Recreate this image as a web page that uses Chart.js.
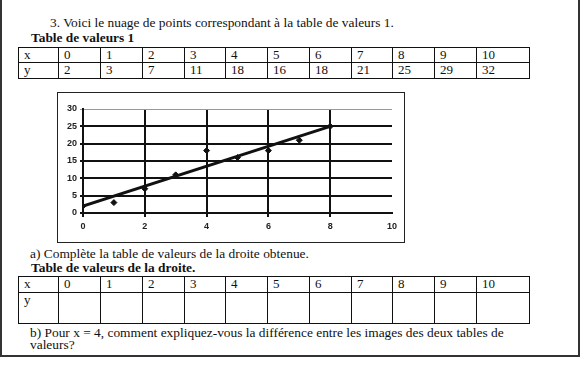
<!DOCTYPE html>
<html>
<head>
<meta charset="utf-8">
<script src="https://cdn.jsdelivr.net/npm/chart.js@4/dist/chart.umd.min.js"></script>
<style>
  body { margin: 0; background: #fff; width: 582px; height: 365px; overflow: hidden; position: relative;
         font-family: "Liberation Serif", "DejaVu Serif", serif; color: #111; }
  .frame { position: absolute; left: 0; top: -6px; width: 576px; height: 359px; border: 2px solid #333; }
  .txt { position: absolute; font-size: 13.4px; line-height: 14px; white-space: nowrap; }
  .bold { font-weight: bold; }
  table { position: absolute; left: 18px; border-collapse: collapse; font-size: 13px; }
  td { border: 1.5px solid #111; padding: 0 0 0 5px; vertical-align: top; line-height: 14px; }
  #box { position: absolute; left: 57px; top: 92px; width: 346px; height: 149px; border: 1px solid #222; }
</style>
</head>
<body>
<div class="frame"></div>
<div class="txt" style="left:50px;top:16px">3. Voici le nuage de points correspondant à la table de valeurs 1.</div>
<div class="txt bold" style="left:31px;top:31px">Table de valeurs 1</div>
<table id="t1" style="top:47px"></table>

<div id="box"><canvas id="Chart" width="346" height="149"></canvas></div>

<div class="txt" style="left:30px;top:247px">a) Complète la table de valeurs de la droite obtenue.</div>
<div class="txt bold" style="left:31px;top:261px">Table de valeurs de la droite.</div>
<table id="t2" style="top:276px"></table>
<div class="txt" style="left:30px;top:326px">b) Pour x = 4, comment expliquez-vous la différence entre les images des deux tables de</div>
<div class="txt" style="left:30px;top:338px">valeurs?</div>

<script>
var tableX = [0, 1, 2, 3, 4, 5, 6, 7, 8, 9, 10];
var tableY = [2, 3, 7, 11, 18, 16, 18, 21, 25, 29, 32];
var plotted = 9; // points shown on the graph: x = 0..8
var lineX = [0, 8];
var lineY = [2, 25];
var xTicks = [0, 2, 4, 6, 8, 10];
var yTicks = [0, 5, 10, 15, 20, 25, 30];

var colW = [39, 41, 41, 41, 40, 41, 41, 41, 40, 41, 41, 52];

function buildTable(id, firstRow, secondRow, rowH) {
  var t = document.getElementById(id);
  [firstRow, secondRow].forEach(function (row, r) {
    var tr = document.createElement('tr');
    row.forEach(function (v, i) {
      var td = document.createElement('td');
      td.textContent = v;
      td.style.width = (colW[i] - 5) + 'px';
      td.style.height = rowH[r] + 'px';
      tr.appendChild(td);
    });
    t.appendChild(tr);
  });
}
buildTable('t1', ['x'].concat(tableX), ['y'].concat(tableY), [14, 15]);
buildTable('t2', ['x'].concat(tableX), ['y'].concat(tableX.map(function () { return ''; })), [15, 30]);

var points = [];
for (var i = 0; i < plotted; i++) points.push({ x: tableX[i], y: tableY[i] });
var fit = lineX.map(function (x, i) { return { x: x, y: lineY[i] }; });

var tickFont = { family: 'Liberation Sans', size: 9, weight: 'bold' };

new Chart(document.getElementById('Chart').getContext('2d'), {
  type: 'scatter',
  data: {
    datasets: [{
      type: 'line',
      data: fit,
      borderColor: '#111',
      borderWidth: 3,
      pointRadius: 0
    }, {
      data: points,
      pointStyle: 'rectRot',
      pointRadius: 3,
      backgroundColor: '#111',
      borderColor: '#111',
      borderWidth: 1
    }]
  },
  options: {
    responsive: false,
    animation: false,
    layout: { padding: { top: 16, right: 12, left: 0, bottom: 0 } },
    plugins: { legend: { display: false }, tooltip: { enabled: false } },
    scales: {
      x: {
        type: 'linear', min: 0, max: 10,
        afterBuildTicks: function (s) { s.ticks = xTicks.map(function (v) { return { value: v }; }); },
        afterFit: function (s) { s.height = 29; },
        border: { color: '#111', width: 2 },
        grid: {
          color: function (c) { return c.tick && c.tick.value === 10 ? 'rgba(0,0,0,0)' : '#111'; },
          lineWidth: 2, tickLength: 4
        },
        ticks: { color: '#222', font: tickFont, padding: 4, maxRotation: 0 }
      },
      y: {
        min: 0, max: 30,
        afterBuildTicks: function (s) { s.ticks = yTicks.map(function (v) { return { value: v }; }); },
        afterFit: function (s) { s.width = 25; },
        border: { color: '#111', width: 2 },
        grid: {
          color: function (c) { return c.tick && c.tick.value === 30 ? '#999' : '#111'; },
          lineWidth: function (c) { return c.tick && c.tick.value === 30 ? 1 : 2; },
          tickLength: 3
        },
        ticks: { color: '#222', font: tickFont, padding: 3 }
      }
    }
  }
});
</script>
</body>
</html>
